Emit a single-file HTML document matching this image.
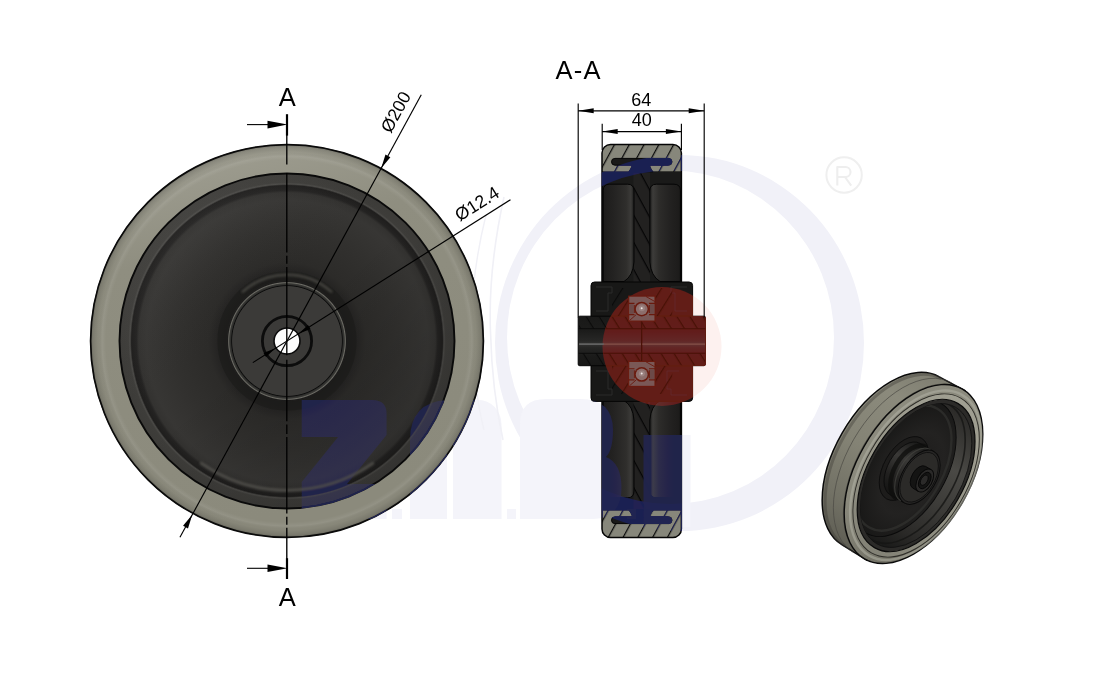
<!DOCTYPE html>
<html>
<head>
<meta charset="utf-8">
<title>Wheel drawing</title>
<style>
html,body{margin:0;padding:0;background:#fff;}
body{width:1099px;height:691px;overflow:hidden;font-family:"Liberation Sans",sans-serif;}
svg{display:block;position:absolute;left:0;top:0;}
text{font-family:"Liberation Sans",sans-serif;fill:#000;}
.blend{mix-blend-mode:lighten;}
</style>
</head>
<body>
<svg width="1099" height="691" viewBox="0 0 1099 691">
<defs>
  <!-- front wheel gradients -->
  <linearGradient id="tireLin" x1="0" y1="0" x2="0.25" y2="1">
    <stop offset="0" stop-color="#a2a194"/>
    <stop offset="0.12" stop-color="#9c9b8e"/>
    <stop offset="0.32" stop-color="#8f8e80"/>
    <stop offset="1" stop-color="#8b8a7c"/>
  </linearGradient>
  <radialGradient id="tireRad" cx="287" cy="341" r="196.8" gradientUnits="userSpaceOnUse">
    <stop offset="0.85" stop-color="#000" stop-opacity="0"/>
    <stop offset="0.92" stop-color="#fff" stop-opacity="0"/>
    <stop offset="0.94" stop-color="#fff" stop-opacity="0.07"/>
    <stop offset="0.96" stop-color="#000" stop-opacity="0.02"/>
    <stop offset="0.985" stop-color="#000" stop-opacity="0.12"/>
    <stop offset="1" stop-color="#000" stop-opacity="0.3"/>
  </radialGradient>
  <radialGradient id="dishRad" cx="287" cy="341" r="167.5" gradientUnits="userSpaceOnUse">
    <stop offset="0" stop-color="#2c2b29"/>
    <stop offset="0.36" stop-color="#201f1e"/>
    <stop offset="0.41" stop-color="#242322"/>
    <stop offset="0.47" stop-color="#2c2b29"/>
    <stop offset="0.66" stop-color="#31302e"/>
    <stop offset="0.84" stop-color="#373634"/>
    <stop offset="0.885" stop-color="#333230"/>
    <stop offset="0.9" stop-color="#242322"/>
    <stop offset="0.928" stop-color="#1f1e1d"/>
    <stop offset="0.937" stop-color="#4b4a47"/>
    <stop offset="0.947" stop-color="#3e3d3a"/>
    <stop offset="1" stop-color="#3c3b38"/>
  </radialGradient>
  <linearGradient id="dishLin" x1="0.15" y1="0.1" x2="0.85" y2="0.9">
    <stop offset="0" stop-color="#fff" stop-opacity="0.05"/>
    <stop offset="0.45" stop-color="#000" stop-opacity="0"/>
    <stop offset="1" stop-color="#000" stop-opacity="0.16"/>
  </linearGradient>
  <radialGradient id="hubRad" cx="287" cy="341" r="59.5" gradientUnits="userSpaceOnUse">
    <stop offset="0" stop-color="#3b3a38"/>
    <stop offset="0.915" stop-color="#3b3a38"/>
    <stop offset="0.93" stop-color="#0c0c0c"/>
    <stop offset="0.945" stop-color="#2d2d2b"/>
    <stop offset="0.965" stop-color="#3a3a37"/>
    <stop offset="0.98" stop-color="#6e6d66"/>
    <stop offset="1" stop-color="#151515"/>
  </radialGradient>
  <marker id="ah" markerWidth="20" markerHeight="8" refX="20" refY="4" orient="auto" markerUnits="userSpaceOnUse">
    <path d="M0,0.4 L20,4 L0,7.6 Z" fill="#000"/>
  </marker>

  <!-- section defs -->
  <pattern id="hatchTire" width="13" height="13" patternUnits="userSpaceOnUse" patternTransform="translate(606.5,158) rotate(-61.5)">
    <rect width="13" height="13" fill="#87877b"/>
    <line x1="-1" y1="0.6" x2="14" y2="0.6" stroke="#0a0a0a" stroke-width="1.3"/>
  </pattern>
  <pattern id="hatchWeb" width="13" height="13" patternUnits="userSpaceOnUse" patternTransform="translate(641,200) rotate(61.5)">
    <rect width="13" height="13" fill="#222120"/>
    <line x1="-1" y1="0.6" x2="14" y2="0.6" stroke="#050505" stroke-width="1.3"/>
  </pattern>
  <linearGradient id="cavL" x1="0" y1="0" x2="1" y2="0">
    <stop offset="0" stop-color="#1c1b1a"/>
    <stop offset="0.35" stop-color="#242322"/>
    <stop offset="0.75" stop-color="#2f2e2c"/>
    <stop offset="0.9" stop-color="#3c3b39"/>
    <stop offset="1" stop-color="#1a1a19"/>
  </linearGradient>
  <linearGradient id="cavR" x1="0" y1="0" x2="1" y2="0">
    <stop offset="0" stop-color="#1a1a19"/>
    <stop offset="0.1" stop-color="#3d3c3a"/>
    <stop offset="0.3" stop-color="#2d2c2a"/>
    <stop offset="0.65" stop-color="#232221"/>
    <stop offset="1" stop-color="#1c1b1a"/>
  </linearGradient>
  <linearGradient id="shaft" x1="0" y1="0" x2="0" y2="1">
    <stop offset="0" stop-color="#191918"/>
    <stop offset="0.3" stop-color="#1c1c1b"/>
    <stop offset="0.5" stop-color="#272726"/>
    <stop offset="0.565" stop-color="#323231"/>
    <stop offset="0.63" stop-color="#262625"/>
    <stop offset="0.8" stop-color="#1b1b1a"/>
    <stop offset="1" stop-color="#171716"/>
  </linearGradient>
  <clipPath id="tireClip"><rect x="602" y="144.5" width="79.4" height="393" rx="8.5"/></clipPath>

  <!-- iso defs -->
  <linearGradient id="isoTread" x1="0" y1="0" x2="0" y2="1">
    <stop offset="0" stop-color="#7f7e71"/>
    <stop offset="0.2" stop-color="#8b8a7c"/>
    <stop offset="0.5" stop-color="#848375"/>
    <stop offset="0.8" stop-color="#727165"/>
    <stop offset="1" stop-color="#5f5e54"/>
  </linearGradient>
  <linearGradient id="isoFace" x1="0" y1="0" x2="0" y2="1">
    <stop offset="0" stop-color="#a09f92"/>
    <stop offset="0.5" stop-color="#979689"/>
    <stop offset="1" stop-color="#838276"/>
  </linearGradient>
  <linearGradient id="isoWall" x1="0" y1="0" x2="0" y2="1">
    <stop offset="0" stop-color="#2a2927"/>
    <stop offset="0.35" stop-color="#4a4945"/>
    <stop offset="0.6" stop-color="#3c3b38"/>
    <stop offset="0.85" stop-color="#2a2927"/>
    <stop offset="1" stop-color="#191918"/>
  </linearGradient>
  <radialGradient id="isoWeb" cx="0.62" cy="0.5" r="0.6">
    <stop offset="0" stop-color="#1b1a19"/>
    <stop offset="0.5" stop-color="#232221"/>
    <stop offset="1" stop-color="#141413"/>
  </radialGradient>
  <linearGradient id="isoHubSide" x1="0" y1="0" x2="0" y2="1">
    <stop offset="0" stop-color="#1a1a19"/>
    <stop offset="0.35" stop-color="#3a3937"/>
    <stop offset="0.7" stop-color="#222120"/>
    <stop offset="1" stop-color="#141413"/>
  </linearGradient>
  
  <linearGradient id="isoShoulder" x1="0" y1="0" x2="1" y2="1">
    <stop offset="0" stop-color="#8d8c7f"/>
    <stop offset="0.45" stop-color="#8a897c"/>
    <stop offset="0.75" stop-color="#77766a"/>
    <stop offset="1" stop-color="#66655b"/>
  </linearGradient>
  <clipPath id="isoOpen"><ellipse cx="0" cy="0" rx="45.5" ry="78.8"/></clipPath>

  <!-- watermark shapes -->
  <g id="wmRing">
    <path stroke="none" fill-rule="evenodd" d="M495.0,343 A184.5,188 0 1 0 864.0,343 A184.5,188 0 1 0 495.0,343 Z M507.0,337.3 A163.5,166.7 0 1 1 834.0,337.3 A163.5,166.7 0 1 1 507.0,337.3 Z"/>
  </g>
  <g id="wmLetters" stroke="none">
    <path d="M301.7,400 H372.6 Q386.6,400 386.6,414 V435 L347,484 H386.6 V519 H301.7 V482 L338,437 H301.7 Z"/>
    <path d="M410,519 V440 Q410,402 447,400 V519 Z M453,519 V424 A24.25,24.25 0 0 1 501.5,424 V519 Z"/>
    <path d="M520,519 V424 Q520,399 546,399 H580 Q613,399 613,430 Q613,450 606,457 Q621.5,463 621.5,488 Q621.5,519 592,519 Z"/>
    <rect x="643.5" y="435" width="47" height="92"/>
    <rect x="392" y="509" width="10" height="10"/>
    <rect x="507" y="509" width="9" height="10"/>
    <rect x="627" y="509" width="9" height="10"/>
  </g>
  <circle id="wmRed" cx="662" cy="346.4" r="59.5"/>
  <filter id="blur1" x="-20%" y="-50%" width="140%" height="200%"><feGaussianBlur stdDeviation="1.2"/></filter>

  <pattern id="hatchRedA" width="11" height="11" patternUnits="userSpaceOnUse" patternTransform="translate(641,341) rotate(58)">
    <line x1="-1" y1="0.6" x2="12" y2="0.6" stroke="#3f0d06" stroke-width="1.1"/>
  </pattern>
  <pattern id="hatchRedB" width="11" height="11" patternUnits="userSpaceOnUse" patternTransform="translate(641,341) rotate(-58)">
    <line x1="-1" y1="0.6" x2="12" y2="0.6" stroke="#3f0d06" stroke-width="1.1"/>
  </pattern>
  <clipPath id="redClip"><circle cx="662" cy="346.4" r="59"/></clipPath>
  <pattern id="hatchDarkA" width="11" height="11" patternUnits="userSpaceOnUse" patternTransform="translate(641,341) rotate(58)">
    <line x1="-1" y1="0.6" x2="12" y2="0.6" stroke="#070707" stroke-width="1.1"/>
  </pattern>
  <pattern id="hatchDarkB" width="11" height="11" patternUnits="userSpaceOnUse" patternTransform="translate(641,341) rotate(-58)">
    <line x1="-1" y1="0.6" x2="12" y2="0.6" stroke="#070707" stroke-width="1.1"/>
  </pattern>
</defs>

<rect width="1099" height="691" fill="#fff"/>

<!-- WATERMARK-FAINT -->
<g style="mix-blend-mode:multiply">
  <use href="#wmRing" fill="#f1f1f8" stroke="#f1f1f8"/>
  <circle cx="844.1" cy="175" r="17.7" fill="none" stroke="#efefef" stroke-width="2"/>
  <path d="M837.3,185.6 V167 H845.5 A5,5 0 0 1 845.5,177 H837.3 M845,177 L851.2,185.6" fill="none" stroke="#eeeeee" stroke-width="2.1" stroke-linejoin="round"/>
  <use href="#wmLetters" fill="#f4f4fa"/>
  <path d="M504,197 Q488,270 490.5,332 Q492,390 503,440" fill="none" stroke="#f0f0f6" stroke-width="1.6"/>
  <path d="M486,215 Q470,280 472,335 Q474,390 484,430" fill="none" stroke="#f0f0f6" stroke-width="1.4"/>
</g>
<g style="mix-blend-mode:multiply">
  <use href="#wmRed" fill="#fdf1ef"/>
</g>
<!-- FRONT-WHEEL -->
<g id="front">
  <circle cx="287" cy="341" r="196.8" fill="url(#tireLin)"/>
  <circle cx="287" cy="341" r="196.8" fill="url(#tireRad)"/>
  <circle cx="287" cy="341" r="196.4" fill="none" stroke="#0a0a0a" stroke-width="1.7"/>
  <circle cx="287" cy="341" r="167.5" fill="url(#dishRad)"/>
  <circle cx="287" cy="341" r="167.5" fill="url(#dishLin)"/>
  <path d="M372.7,463.5 A149.5,149.5 0 0 1 201.3,463.5" fill="none" stroke="#66655f" stroke-width="3.2" opacity="0.55" stroke-linecap="round" filter="url(#blur1)"/>
  <circle cx="287" cy="341" r="167.5" fill="none" stroke="#0a0a0a" stroke-width="1.9"/>
  <!-- hub -->
  <circle cx="287" cy="341" r="65" fill="none" stroke="#1a1a19" stroke-width="9" opacity="0.6"/>
  <path d="M243,291.5 A66,66 0 0 1 331,291.5" fill="none" stroke="#56554f" stroke-width="3" opacity="0.6" stroke-linecap="round" filter="url(#blur1)"/>
  <circle cx="287" cy="341" r="59.5" fill="url(#hubRad)"/>
  <circle cx="287" cy="341" r="24.6" fill="none" stroke="#0c0c0c" stroke-width="2.8"/>
  <circle cx="287" cy="341" r="13" fill="#fdfdfd" stroke="#0c0c0c" stroke-width="1.6"/>
</g>

<!-- SECTION -->
<g id="section">
  <!-- tire -->
  <rect x="602" y="144.5" width="79.4" height="393" rx="8.5" fill="url(#hatchTire)"/>
  <!-- rim body -->
  <rect x="602" y="171.3" width="79.4" height="339.4" fill="#1a1a19"/>
  <!-- web hatch -->
  <rect x="633.5" y="171.3" width="16.5" height="339.4" fill="url(#hatchWeb)"/>
  <!-- T anchor top -->
  <g id="tanchor">
    <rect x="611.5" y="158.4" width="60.5" height="6.8" rx="3.4" fill="#1a1a19" stroke="#050505" stroke-width="1"/>
    <path d="M632.5,164.5 L649.5,164.5 L650.5,168 L653,171.8 L629,171.8 L631.5,168 Z" fill="#1a1a19" stroke="#050505" stroke-width="0.8"/>
  </g>
  <use href="#tanchor" transform="translate(0,682) scale(1,-1)"/>
  <!-- cavities -->
  <g id="cavTop">
    <path d="M603.2,190.5 Q603.2,184.2 609.5,184.2 L627.5,184.2 Q634,184.2 634,191 L634,262 Q633,276 624,281.5 L603.2,281.5 Z" fill="url(#cavL)" stroke="#050505" stroke-width="1"/>
    <path d="M680.4,190.5 Q680.4,184.2 674,184.2 L656.5,184.2 Q649.8,184.2 649.8,191 L649.8,262 Q651,276 660,281.5 L680.4,281.5 Z" fill="url(#cavR)" stroke="#050505" stroke-width="1"/>
  </g>
  <use href="#cavTop" transform="translate(0,682) scale(1,-1)"/>
  <rect x="602" y="144.5" width="79.4" height="393" rx="8.5" fill="none" stroke="#050505" stroke-width="1.5"/>
  <!-- hub flange -->
  <rect x="591" y="282" width="101.6" height="119.4" rx="3.5" fill="#181817" stroke="#050505" stroke-width="1"/>
  <!-- hub inner details -->
  <g stroke="#2b2b2a" stroke-width="1" fill="none">
    <path d="M596,287 h16 v6 h-4 v18 h-12 M596,395 h16 v-6 h-4 v-18 h-12"/>
    <path d="M687,287 h-16 v6 h4 v18 h12 M687,395 h-16 v-6 h-4 v-18 h12"/>
  </g>
  <!-- sleeve -->
  <rect x="578.2" y="316.2" width="127.3" height="49.5" rx="1.5" fill="url(#shaft)" stroke="#050505" stroke-width="1"/>
  <line x1="579" y1="344.1" x2="604" y2="344.1" stroke="#6e6e6e" stroke-width="1.4"/>
  <g opacity="0.85">
    <rect x="579" y="316.8" width="126" height="11.6" fill="url(#hatchDarkA)"/>
    <rect x="579" y="353.6" width="126" height="11.6" fill="url(#hatchDarkA)"/>
    <rect x="612" y="288" width="16.5" height="28" fill="url(#hatchDarkB)"/>
    <rect x="655.2" y="288" width="17" height="28" fill="url(#hatchDarkB)"/>
    <rect x="612" y="366" width="16.5" height="28" fill="url(#hatchDarkB)"/>
    <rect x="655.2" y="366" width="17" height="28" fill="url(#hatchDarkB)"/>
  </g>
  <path d="M578.7,328.7 H705.2 M578.7,353.3 H705.2" stroke="#080808" stroke-width="0.8" fill="none"/>
  <!-- bearings -->
  
  <line x1="641.6" y1="321.6" x2="641.6" y2="361.2" stroke="#050505" stroke-width="1.2"/>
</g>

<!-- ISO -->
<g id="iso" transform="translate(916.1,475.5) rotate(30)">
  <!-- tread -->
  <path d="M-29.3,-97 L0,-98 L0,98 L-29.3,97 A56,97 0 0 1 -29.3,-97 Z" fill="url(#isoTread)" stroke="#0a0a0a" stroke-width="1.5" stroke-linejoin="round"/>
  <path d="M-26.3,96.5 A55.7,96.5 0 0 1 -26.3,-96.5" fill="none" stroke="#3e3d37" stroke-width="3" opacity="0.4"/>
  <path d="M-15.5,98 A56.6,98 0 0 1 -15.5,-98" fill="none" stroke="#4a4943" stroke-width="0.8" opacity="0.8"/>
  <path d="M-4,98 A56.6,98 0 0 1 -4,-98" fill="none" stroke="#4a4943" stroke-width="0.8" opacity="0.7"/>
  <!-- front face tire -->
  <ellipse cx="-3" cy="0" rx="56.6" ry="98" fill="url(#isoShoulder)" stroke="#0a0a0a" stroke-width="1.4"/>
  <ellipse cx="-0.5" cy="0" rx="53.6" ry="92.8" fill="none" stroke="#b1b0a4" stroke-width="2.4" opacity="0.55"/>
  <ellipse cx="0" cy="0" rx="51.6" ry="89.4" fill="url(#isoFace)" stroke="#2e2d28" stroke-width="0.9"/>
  <!-- rim lip -->
  <ellipse cx="0" cy="0" rx="48.1" ry="83.3" fill="#2b2a28" stroke="#0a0a0a" stroke-width="1.2"/>
  <!-- inner wall -->
  <ellipse cx="0" cy="0" rx="45.5" ry="78.8" fill="url(#isoWall)" stroke="#111" stroke-width="0.8"/>
  <g clip-path="url(#isoOpen)">
    <ellipse cx="-7" cy="0" rx="45" ry="78" fill="none" stroke="#151514" stroke-width="1.6" opacity="0.8"/>
    <!-- web face -->
    <ellipse cx="-15" cy="0" rx="43.3" ry="75" fill="url(#isoWeb)" stroke="#0a0a0a" stroke-width="0.9"/>
    <ellipse cx="-15" cy="0" rx="39.5" ry="68.5" fill="none" stroke="#302f2d" stroke-width="2.4" opacity="0.8"/>
    <!-- hub base fillet -->
    <ellipse cx="-14" cy="0" rx="20.2" ry="35" fill="#1d1c1b" stroke="#0b0b0b" stroke-width="0.8"/>
    <!-- hub side -->
    <path d="M-12.8,-29.7 L3.5,-29.7 L3.5,29.7 L-12.8,29.7 A17.15,29.7 0 0 1 -12.8,-29.7 Z" fill="url(#isoHubSide)" stroke="#0b0b0b" stroke-width="0.8"/>
    <path d="M-5.5,29.7 A17.15,29.7 0 0 1 -5.5,-29.7" fill="none" stroke="#0d0d0c" stroke-width="4.5" opacity="0.75"/>
    <path d="M-0.5,29.7 A17.15,29.7 0 0 1 -0.5,-29.7" fill="none" stroke="#454440" stroke-width="1.2" opacity="0.7"/>
  </g>
  <!-- hub face -->
  <ellipse cx="3.5" cy="0" rx="17.15" ry="29.7" fill="#262524" stroke="#0a0a0a" stroke-width="0.9"/>
  <ellipse cx="3.5" cy="0" rx="15.7" ry="27.2" fill="#2b2a28" stroke="#0f0f0f" stroke-width="0.8"/>
  <!-- sleeve -->
  <path d="M3.5,-12.6 L10,-12.6 L10,12.6 L3.5,12.6 A7.3,12.6 0 0 1 3.5,-12.6 Z" fill="#141413" stroke="#070707" stroke-width="0.8"/>
  <ellipse cx="10" cy="0" rx="7.3" ry="12.6" fill="#2a2928" stroke="#070707" stroke-width="0.9"/>
  <ellipse cx="10" cy="0" rx="5.2" ry="9" fill="#151514" stroke="#050505" stroke-width="0.8"/>
  <ellipse cx="9.4" cy="0" rx="3.2" ry="5.6" fill="#2b2a29" stroke="#050505" stroke-width="0.7"/>
</g>

<!-- WATERMARK-BLEND -->
<g class="blend">
  <use href="#wmLetters" fill="#20244a"/>
</g>
<g class="blend">
  <use href="#wmRing" fill="#1a2052" stroke="#1a2052"/>
</g>
<g class="blend">
  <use href="#wmRed" fill="#621d11"/>
</g>

<g clip-path="url(#redClip)" opacity="0.8">
  <rect x="579" y="316.8" width="126" height="11.6" fill="url(#hatchRedA)"/>
  <rect x="579" y="353.6" width="126" height="11.6" fill="url(#hatchRedA)"/>
  <rect x="612" y="288" width="16.5" height="28" fill="url(#hatchRedB)"/>
  <rect x="655.2" y="288" width="17" height="28" fill="url(#hatchRedB)"/>
  <rect x="612" y="366" width="16.5" height="28" fill="url(#hatchRedB)"/>
  <rect x="655.2" y="366" width="17" height="28" fill="url(#hatchRedB)"/>
  <path d="M603,328.7 H705.2 M603,353.3 H705.2" stroke="#3f0d06" stroke-width="0.9" fill="none"/>
</g>
<line x1="603.5" y1="344.1" x2="705" y2="344.1" stroke="#865049" stroke-width="1.4"/>
<!-- bearings (drawn over watermark with tinted colours) -->
<g id="bearing">
  <rect x="628.7" y="296.1" width="26.3" height="25" fill="#7a5856" stroke="#6a1a0e" stroke-width="1.1"/>
  <path d="M628.7,303.4 H634.5 M649,303.4 H655 M628.7,314.6 H634.5 M649,314.6 H655 M634.2,305 V313 M649.3,305 V313" stroke="#6a1a0e" stroke-width="1.1" fill="none"/>
  <rect x="629.6" y="304.2" width="4" height="9.6" fill="#6c4a48"/>
  <rect x="650" y="304.2" width="4.2" height="9.6" fill="#6c4a48"/>
  <path d="M646,296.5 L654.8,301.5 M629.5,320.5 L636,314.8" stroke="#6a1a0e" stroke-width="0.9" fill="none"/>
  <circle cx="641.7" cy="309.1" r="7.4" fill="#6a1a0e"/>
  <circle cx="641.7" cy="309.1" r="5.9" fill="#8c6e6c"/>
  <circle cx="641.9" cy="308.2" r="3" fill="#9b8280"/>
  <circle cx="641.7" cy="308.2" r="1" fill="#efe6e4"/>
</g>
<use href="#bearing" transform="translate(0,65.3)"/>
<line x1="641.6" y1="321.6" x2="641.6" y2="361" stroke="#4a1208" stroke-width="1.2"/>

<!-- DIMENSIONS -->
<g id="dims" stroke="#000" stroke-width="1.15" fill="none">
<path d="M286.8,135 V164.4 M286.8,173 V252.6 M286.8,255.8 V263.7 M286.8,266.9 V355.3 M286.8,359.7 V421.2 M286.8,424.4 V434 M286.8,437 V513.5 M286.8,516.7 V524.7 M286.8,527.8 V559" stroke-width="1.35"/>
<line x1="247" y1="124.6" x2="270" y2="124.6" stroke-width="1.1"/>
<line x1="287" y1="114.2" x2="287" y2="135.6" stroke-width="2.2"/>
<path d="M287.50,124.60 L267.50,120.80 L267.50,128.40 Z" fill="#000" stroke="none"/>
<line x1="247" y1="568.3" x2="270" y2="568.3" stroke-width="1.1"/>
<line x1="287" y1="558.2" x2="287" y2="579" stroke-width="2.2"/>
<path d="M287.50,568.30 L267.50,564.50 L267.50,572.10 Z" fill="#000" stroke="none"/>
<line x1="421.27" y1="94.73" x2="179.96" y2="537.32" stroke-width="1.15"/>
<path d="M381.21,168.21 L390.37,157.26 L385.45,154.58 Z" fill="#000" stroke="none"/>
<path d="M192.22,514.84 L183.06,525.79 L187.98,528.47 Z" fill="#000" stroke="none"/>
<g transform="translate(421.27,94.73) rotate(-61.4)"><text x="-5.6" y="-8" font-size="17.8" text-anchor="end" stroke="none">Ø200</text></g>
<line x1="510.50" y1="199.71" x2="252.80" y2="362.62" stroke-width="1.15"/>
<path d="M298.66,333.63 L310.51,328.98 L307.95,324.92 Z" fill="#000" stroke="none"/>
<path d="M275.34,348.37 L263.49,353.02 L266.05,357.08 Z" fill="#000" stroke="none"/>
<g transform="translate(510.50,199.71) rotate(-32.3)"><text x="-6.3" y="-8.4" font-size="17.8" text-anchor="end" stroke="none">Ø12.4</text></g>
<text x="287.2" y="106.4" font-size="25.5" text-anchor="middle" stroke="none">A</text>
<text x="287.2" y="606" font-size="25.5" text-anchor="middle" stroke="none">A</text>
<text x="555.5" y="79" font-size="25.5" letter-spacing="1.2" stroke="none">A-A</text>
<line x1="578.2" y1="103.5" x2="578.2" y2="317.5"/>
<line x1="704.2" y1="103.5" x2="704.2" y2="317.5"/>
<line x1="578.2" y1="110.8" x2="704.2" y2="110.8"/>
<path d="M578.20,110.80 L593.70,113.30 L593.70,108.30 Z" fill="#000" stroke="none"/>
<path d="M704.20,110.80 L688.70,108.30 L688.70,113.30 Z" fill="#000" stroke="none"/>
<text x="641.3" y="105.6" font-size="18" text-anchor="middle" stroke="none">64</text>
<line x1="602.2" y1="123.8" x2="602.2" y2="150"/>
<line x1="681.4" y1="123.8" x2="681.4" y2="150"/>
<line x1="602.2" y1="131.6" x2="681.4" y2="131.6"/>
<path d="M602.20,131.60 L617.70,134.10 L617.70,129.10 Z" fill="#000" stroke="none"/>
<path d="M681.40,131.60 L665.90,129.10 L665.90,134.10 Z" fill="#000" stroke="none"/>
<text x="641.7" y="125.8" font-size="18" text-anchor="middle" stroke="none">40</text>
</g>

</svg>
</body>
</html>
